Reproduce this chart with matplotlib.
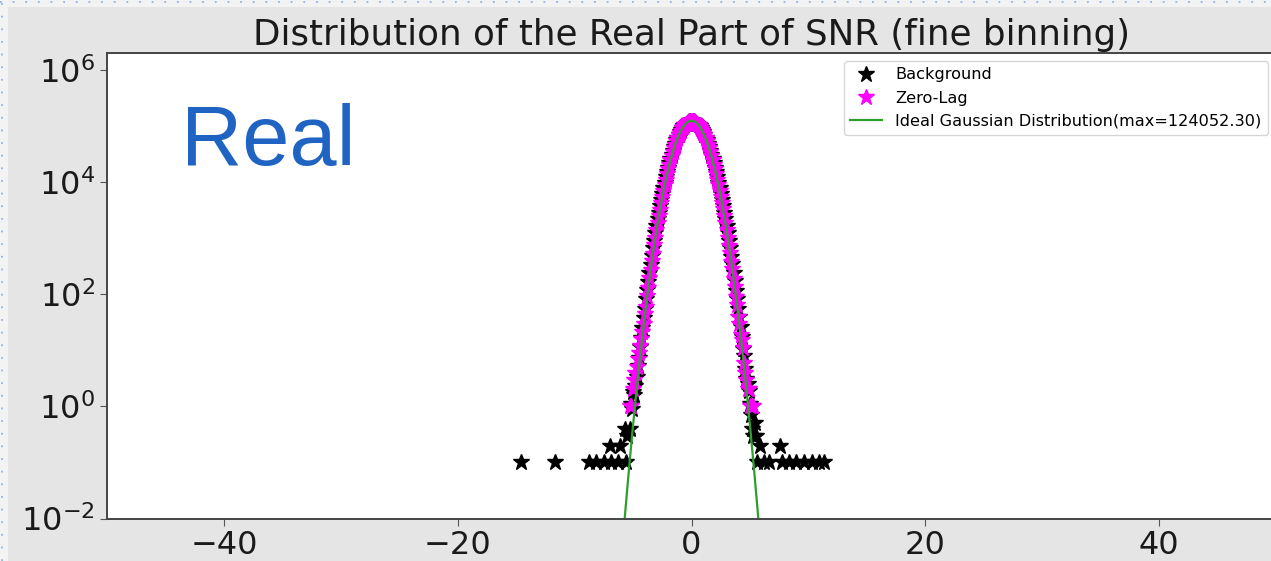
import numpy as np
import matplotlib
matplotlib.use("Agg")
import matplotlib.pyplot as plt
from matplotlib.patches import Rectangle
from matplotlib.lines import Line2D

# bin centres of the fine histogram (step 0.1)
bin_centres = np.round(np.arange(-5.3, 5.35, 0.1), 1)

# zero-lag counts per bin
zerolag_counts = [
    1, 1, 0, 2, 3, 4, 5, 7, 9, 12,
    16, 21, 30, 44, 60, 93, 129, 194, 268, 389,
    531, 748, 1009, 1385, 1846, 2470, 3231, 4236, 5440, 6975,
    8796, 11048, 13659, 16802, 20388, 24571, 29228, 34510, 40251, 46583,
    53262, 60410, 67718, 75269, 82712, 90105, 97068, 103650, 109441, 114549,
    118560, 121630, 123401,
    124090,
    123465, 121570, 118627, 114482, 109510, 103583, 97130, 90047, 82775, 75214,
    67770, 60355, 53316, 46531, 40298, 34468, 29267, 24528, 20425, 16771,
    13695, 11014, 8823, 6948, 5466, 4209, 3252, 2449, 1862, 1367,
    1024, 733, 542, 377, 276, 186, 135, 88, 65, 40,
    29, 19, 15, 11, 6, 4, 3, 2, 2, 1,
    0, 1, 1,
]

# background (time slides, normalised) per bin
background_counts = [
    0.4, 1.1, 0.9, 1.8, 1.6, 2.3, 3.4, 5.2, 7.4, 11.3,
    16.6, 24.5, 37.5, 55.4, 80.9, 117.4, 168.2, 239.4, 337.4, 471.5,
    652.8, 892.9, 1211.0, 1626.1, 2162.0, 2847.3, 3713.0, 4794.2, 6132.4, 7763.7,
    9741.3, 12101.2, 14880.5, 18134.0, 21871.4, 26140.3, 30935.6, 36251.0, 42091.8, 48379.1,
    55092.3, 62150.6, 69380.2, 76759.5, 84073.1, 91290.0, 98102.4, 104390.2, 110041.7, 114903.8,
    118871.3, 121688.4, 123398.2,
    124103.5,
    123471.9, 121540.7, 118790.6, 114812.0, 109980.3, 104288.5, 98011.6, 91205.3, 84129.8, 76702.4,
    69331.7, 62108.9, 55141.0, 48340.5, 42064.2, 36228.7, 30957.1, 26155.9, 21862.0, 18121.7,
    14893.2, 12094.8, 9747.9, 7755.2, 6140.1, 4787.6, 3720.4, 2841.9, 2169.5, 1620.8,
    1214.3, 889.6, 655.1, 469.2, 339.0, 236.8, 170.1, 116.0, 82.3, 54.1,
    38.9, 25.8, 17.2, 10.7, 7.9, 4.6, 3.1, 2.5, 1.9, 1.1,
    0.7, 0.4, 0.3,
]

# sparse background tail outside the core
tail_x = [-14.6, -11.7, -8.8, -8.2, -7.5, -6.9, -6.3, -5.6, -7.0, -6.1, -5.7, -5.5,
          5.6, 6.2, 6.6, 7.7, 8.3, 8.9, 9.6, 10.3, 10.9, 11.3, 5.9, 7.6, 5.5, 5.4]
tail_y = [0.1, 0.1, 0.1, 0.1, 0.1, 0.1, 0.1, 0.1, 0.2, 0.2, 0.4, 0.3,
          0.1, 0.1, 0.1, 0.1, 0.1, 0.1, 0.1, 0.1, 0.1, 0.1, 0.2, 0.2, 0.3, 0.5]

gauss_max = 124052.30
gauss_sigma = 1.0

bg_x = list(bin_centres) + tail_x
bg_y = list(background_counts) + tail_y

fig = plt.figure(figsize=(12.71, 5.61), dpi=100)
fig.patch.set_facecolor("#f3f3f3")
# grey figure panel of the pasted plot
fig.patches.append(Rectangle((8 / 1271, 0), 1, 1 - 7 / 561, transform=fig.transFigure,
                             facecolor="#e5e5e5", edgecolor="none", zorder=-5))
# dotted slide selection border
fig.add_artist(Line2D([0, 1], [1 - 2 / 561] * 2, transform=fig.transFigure,
                      color="#8fb6e6", lw=1.3, linestyle=(0, (1, 6))))
fig.add_artist(Line2D([2 / 1271] * 2, [0, 1], transform=fig.transFigure,
                      color="#8fb6e6", lw=1.3, linestyle=(0, (1, 6))))

ax = fig.add_axes([107 / 1271, 42.5 / 561, 1169 / 1271, 465.5 / 561])
ax.set_yscale("log", nonpositive="mask")

ax.plot(bg_x, bg_y, "*", color="black", ms=12, label="Background")
ax.plot(bin_centres, zerolag_counts, "*", color="magenta", ms=12, label="Zero-Lag")
xs = np.linspace(-7, 7, 1401)
ax.plot(xs, gauss_max * np.exp(-xs ** 2 / (2 * gauss_sigma ** 2)), color="tab:green", lw=1.6,
        label="Ideal Gaussian Distribution(max=%.2f)" % gauss_max)

ax.set_xlim(-50, 50)
ax.set_ylim(1e-2, 2e6)
ax.set_xticks([-40, -20, 0, 20, 40])
ax.set_yticks([1e-2, 1e0, 1e2, 1e4, 1e6])
ax.minorticks_off()
ax.tick_params(labelsize=23, color="#555555", labelcolor="#1a1a1a", length=5)
for s in ax.spines.values():
    s.set_color("#444444")
    s.set_linewidth(1.4)

ax.set_title("Distribution of the Real Part of SNR (fine binning)", fontsize=25.7, color="#1a1a1a")
ax.legend(loc="upper right", fontsize=11.6)

fig.text(181 / 1271, 1 - 165 / 561, "Real", fontsize=61, color="#1f64c2",
         family="Liberation Sans", va="baseline", ha="left")

plt.savefig("out.png", dpi=100, facecolor=fig.get_facecolor())
